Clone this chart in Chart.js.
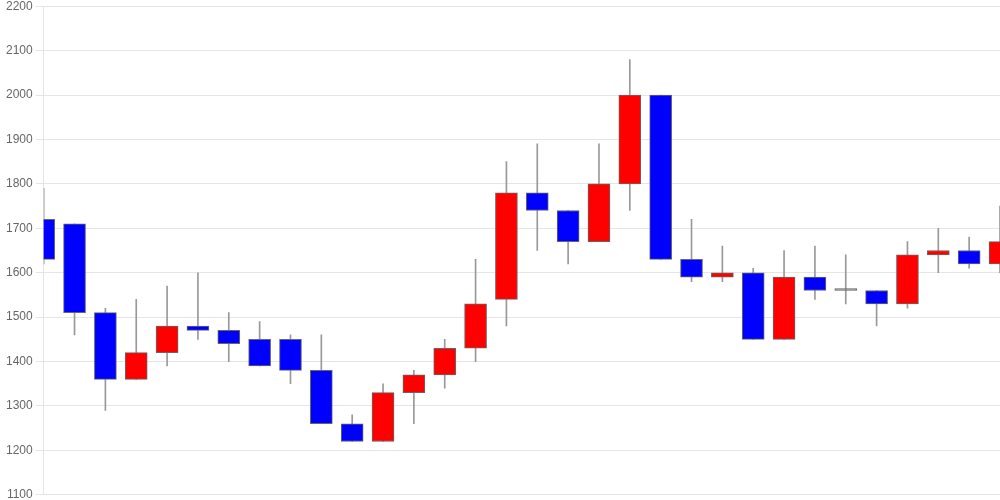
<!DOCTYPE html>
<html><head><meta charset="utf-8">
<script src="https://cdn.jsdelivr.net/npm/chart.js@4/dist/chart.umd.min.js"></script>
<style>html,body{margin:0;padding:0;background:#fff}#wrap{width:1000px;height:500px;overflow:hidden;position:relative}#c{position:absolute;left:0;top:-4px}</style>
</head><body><div id="wrap"><canvas id="c" width="1000" height="509"></canvas></div>
<script>
const categories = ['1','2','3','4','5','6','7','8','9','10','11','12','13','14','15','16','17','18','19','20','21','22','23','24','25','26','27','28','29','30','31','32'];
const opens  = [1720,1710,1510,1360,1420,1480,1470,1450,1450,1380,1260,1220,1330,1370,1430,1540,1780,1740,1670,1800,2000,1630,1590,1600,1450,1590,1560,1560,1530,1640,1650,1620];
const highs  = [1790,1710,1520,1540,1570,1600,1510,1490,1460,1460,1280,1350,1380,1450,1630,1850,1890,1740,1890,2080,2000,1720,1660,1610,1650,1660,1640,1560,1670,1700,1680,1750];
const lows   = [1620,1460,1290,1360,1390,1450,1400,1390,1350,1260,1220,1220,1260,1340,1400,1480,1650,1620,1670,1740,1630,1580,1580,1450,1450,1540,1530,1480,1520,1600,1610,1600];
const closes = [1630,1510,1360,1420,1480,1470,1440,1390,1380,1260,1220,1330,1370,1430,1530,1780,1740,1670,1800,2000,1630,1590,1600,1450,1590,1560,1560,1530,1640,1650,1620,1670];
const yMin = 1100, yMax = 2200, yStep = 100;

const bodies = opens.map((o, i) => [Math.min(o, closes[i]), Math.max(o, closes[i])]);
const wicks = lows.map((l, i) => [l, highs[i]]);
const bodyColors = opens.map((o, i) => closes[i] > o ? '#ff0000' : (closes[i] < o ? '#0000ff' : '#888888'));

new Chart(document.getElementById('c'), {
  type: 'bar',
  data: {
    labels: categories,
    datasets: [
      { label: 'body', data: bodies, backgroundColor: bodyColors, borderColor: '#666666', borderWidth: 1,
        borderSkipped: false, barThickness: 22, grouped: false, minBarLength: 2 },
      { label: 'wick', data: wicks, backgroundColor: '#999999', borderWidth: 0,
        barThickness: 1, grouped: false }
    ]
  },
  options: {
    responsive: false,
    animation: false,
    devicePixelRatio: 1,
    layout: { padding: { left: 3, right: 0, top: 0, bottom: 0 } },
    plugins: { legend: { display: false }, tooltip: { enabled: false } },
    scales: {
      x: { display: false, offset: false, grid: { display: false } },
      y: {
        min: yMin, max: yMax,
        ticks: { stepSize: yStep, color: '#666', font: { family: 'Liberation Sans', size: 12 },
                 callback: v => String(v) },
        grid: { color: 'rgba(0,0,0,0.1)' },
        border: { color: 'rgba(0,0,0,0.1)' }
      }
    }
  }
});
</script></body></html>
